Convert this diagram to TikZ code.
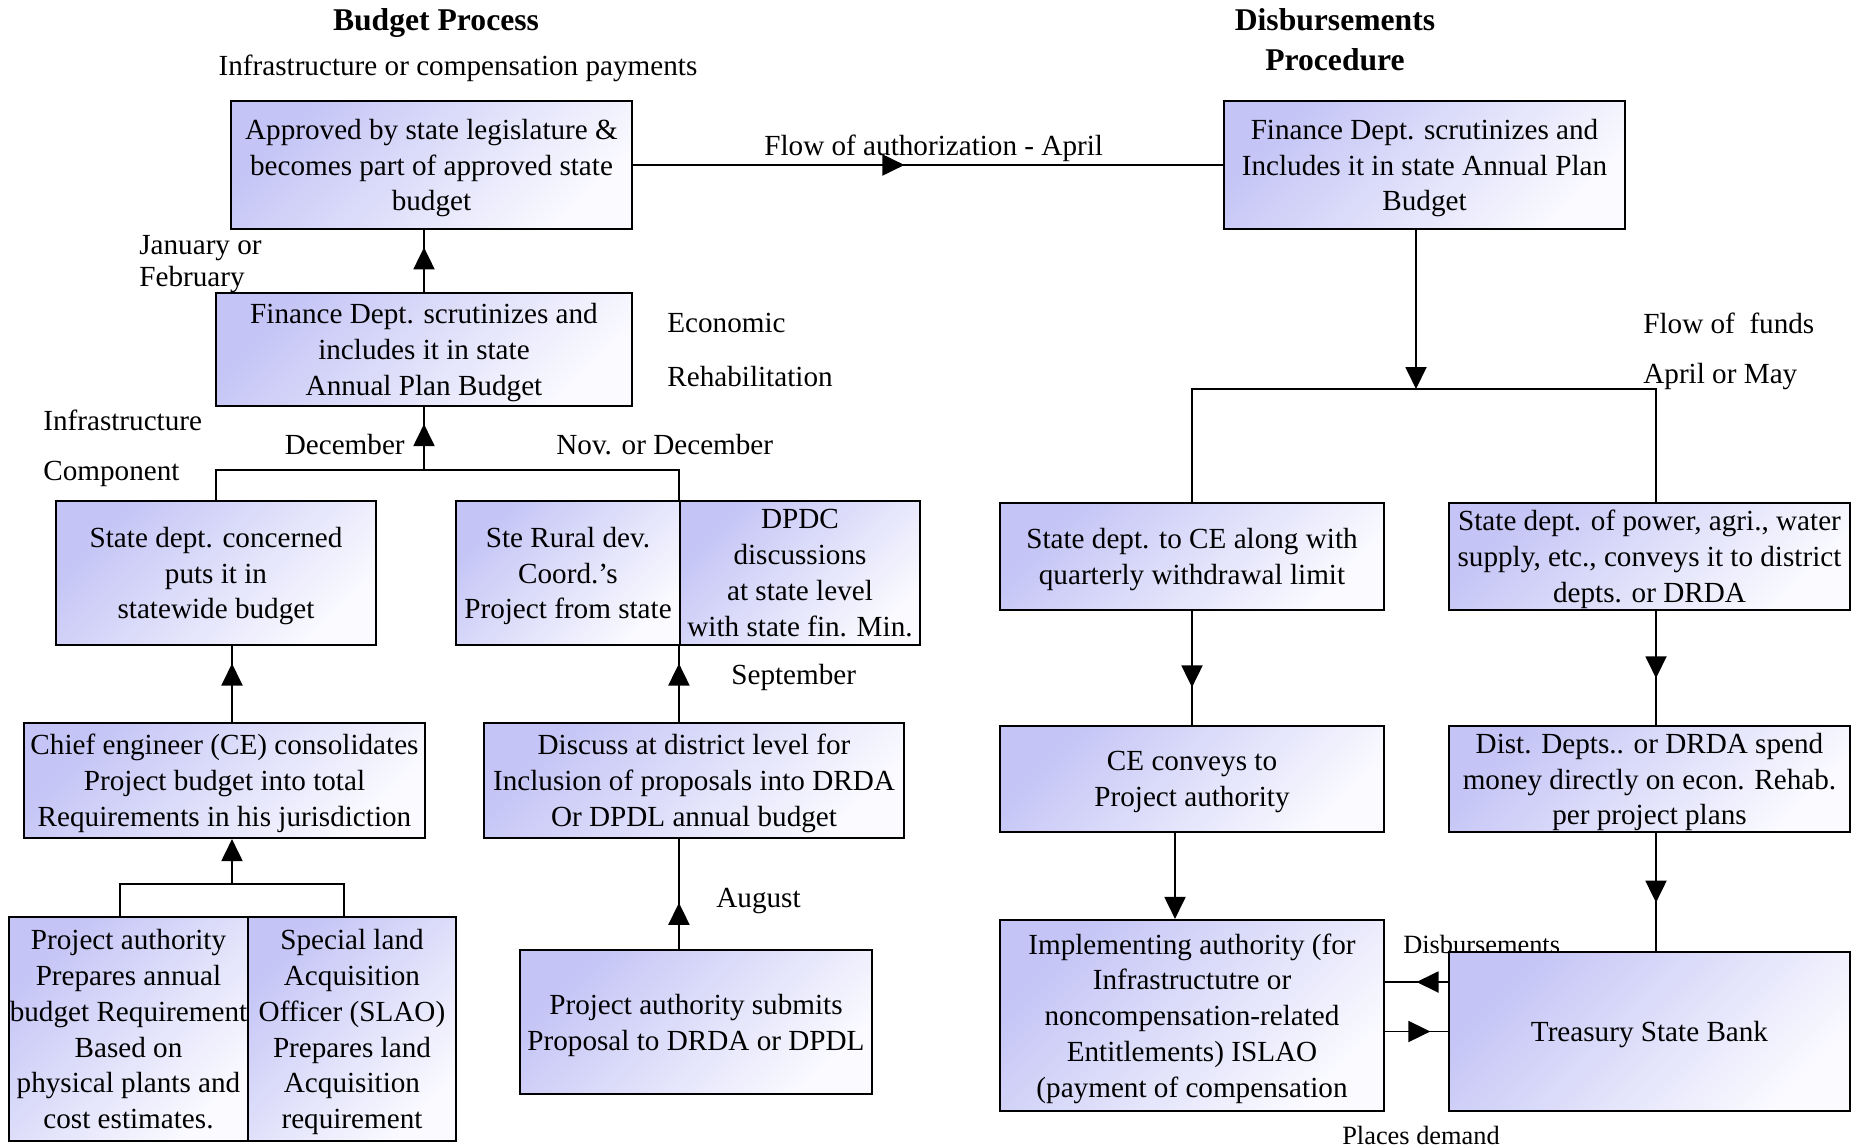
\documentclass[tikz,border=0pt]{standalone}
\usepackage{fontspec}
\setmainfont{Liberation Serif}
\usetikzlibrary{arrows.meta, calc, decorations.markings}
\definecolor{boxlav}{RGB}{196, 196, 246}
\definecolor{boxpale}{RGB}{250, 250, 255}

\begin{document}
\begin{tikzpicture}[
  every node/.style={font=\fontsize{16.6}{20.4}\selectfont, align=center, inner sep=0pt},
  stage/.style={draw=black, line width=1.2pt, top color=boxlav, bottom color=boxpale, shading angle=45, text depth=-1.8pt},
  note/.style={anchor=west},
  small/.style={font=\fontsize{15}{18}\selectfont},
  headline/.style={font=\fontsize{18}{22.8}\selectfont\bfseries},
  link/.style={line width=1.1pt},
  arr/.style={link, -{Triangle[length=0.44cm, width=0.42cm]}},
  midarr/.style={link, postaction={decorate}, decoration={markings, mark=at position #1 with {\arrow{Triangle[length=0.44cm, width=0.42cm]}}}}
]
  \useasboundingbox (0,0) rectangle (37.14,-22.92);

  % titles and free labels
  \node[headline] (budgettitle) at (8.72,-0.47) {Budget Process};
  \node[headline] (disbtitle) at (26.70,-0.80) {Disbursements\\Procedure};
  \node (infracomp) at (9.16,-1.36) {Infrastructure or compensation payments};
  \node[note] (authlbl) at (15.28,-2.96) {Flow of authorization - April};
  \node[note, align=left, font=\fontsize{16.6}{18.6}\selectfont] (janlbl) at (2.78,-5.28) {January or\\February};
  \node[note] (econlbl) at (13.34,-6.46) {Economic};
  \node[note] (rehablbl) at (13.34,-7.54) {Rehabilitation};
  \node[note] (infralbl) at (0.86,-8.40) {Infrastructure};
  \node[note] (complbl) at (0.86,-9.48) {Component};
  \node[anchor=east] (declbl) at (8.10,-8.90) {December};
  \node[note] (novlbl) at (11.12,-8.90) {Nov. or December};
  \node[note] (seplbl) at (14.62,-13.54) {September};
  \node[note] (auglbl) at (14.32,-18.02) {August};
  \node[note] (fundslbl) at (32.86,-6.46) {Flow of\ \ funds};
  \node[note] (aprlbl) at (32.86,-7.54) {April or May};
  \node[note, small] (disblbl) at (28.06,-18.88) {Disbursements};
  \node[small] (demandlbl) at (28.42,-22.70) {Places demand};

  % budget process
  \node[stage, minimum width=8.02cm, minimum height=2.56cm] (approved) at (8.63,-3.30) {Approved by state legislature \&\\becomes part of approved state\\budget};
  \node[stage, minimum width=8.32cm, minimum height=2.26cm] (finleg) at (8.48,-6.99) {Finance Dept. scrutinizes and\\includes it in state\\Annual Plan Budget};
  \node[stage, minimum width=6.40cm, minimum height=2.88cm] (statedept) at (4.32,-11.46) {State dept. concerned\\puts it in\\statewide budget};
  \node[stage, minimum width=4.48cm, minimum height=2.88cm] (rural) at (11.36,-11.46) {Ste Rural dev.\\Coord.’s\\Project from state};
  \node[stage, minimum width=4.80cm, minimum height=2.88cm] (dpdc) at (16.00,-11.46) {DPDC\\discussions\\at state level\\with state fin. Min.};
  \node[stage, minimum width=8.02cm, minimum height=2.30cm] (chiefeng) at (4.49,-15.61) {Chief engineer (CE) consolidates\\Project budget into total\\Requirements in his jurisdiction};
  \node[stage, minimum width=8.40cm, minimum height=2.30cm] (district) at (13.88,-15.61) {Discuss at district level for\\Inclusion of proposals into DRDA\\Or DPDL annual budget};
  \node[stage, minimum width=4.78cm, minimum height=4.48cm] (projauth) at (2.57,-20.58) {Project authority\\Prepares annual\\budget Requirement\\Based on\\physical plants and\\cost estimates.};
  \node[stage, minimum width=4.16cm, minimum height=4.48cm] (slao) at (7.04,-20.58) {Special land\\Acquisition\\Officer (SLAO)\\Prepares land\\Acquisition\\requirement};
  \node[stage, minimum width=7.04cm, minimum height=2.88cm] (submit) at (13.92,-20.44) {Project authority submits\\Proposal to DRDA or DPDL};

  % disbursements procedure
  \node[stage, minimum width=8.02cm, minimum height=2.56cm] (findisb) at (28.49,-3.30) {Finance Dept. scrutinizes and\\Includes it in state Annual Plan\\Budget};
  \node[stage, minimum width=7.68cm, minimum height=2.14cm] (toce) at (23.84,-11.13) {State dept. to CE along with\\quarterly withdrawal limit};
  \node[stage, minimum width=8.02cm, minimum height=2.14cm] (power) at (32.99,-11.13) {State dept. of power, agri., water\\supply, etc., conveys it to district\\depts. or DRDA};
  \node[stage, minimum width=7.68cm, minimum height=2.12cm] (ceconv) at (23.84,-15.58) {CE conveys to\\Project authority};
  \node[stage, minimum width=8.02cm, minimum height=2.12cm] (spend) at (32.99,-15.58) {Dist. Depts.. or DRDA spend\\money directly on econ. Rehab.\\per project plans};
  \node[stage, minimum width=7.68cm, minimum height=3.82cm] (impl) at (23.84,-20.31) {Implementing authority (for\\Infrastructutre or\\noncompensation-related\\Entitlements) ISLAO\\(payment of compensation};
  \node[stage, minimum width=8.02cm, minimum height=3.18cm] (treasury) at (32.99,-20.63) {Treasury State Bank};

  % budget connectors
  \draw[midarr=0.46] (approved.east) -- (findisb.west);
  \draw[midarr=0.72] (finleg.north) -- (finleg.north |- approved.south);
  \coordinate (budgetjoin) at (8.48,-9.40);
  \draw[link] (statedept.north) |- (budgetjoin) -| (dpdc.north west);
  \draw[midarr=0.73] (budgetjoin) -- (finleg.south);
  \coordinate (cejoin) at (4.64,-17.68);
  \draw[midarr=0.77] (chiefeng.north -| cejoin) -- (statedept.south -| cejoin);
  \draw[link] ([xshift=-0.17cm]projauth.north) |- (cejoin) -| ([xshift=-0.16cm]slao.north);
  \draw[arr] (cejoin) -- (chiefeng.south -| cejoin);
  \draw[midarr=0.77] (district.north -| dpdc.south west) -- (dpdc.south west);
  \draw[midarr=0.42] (submit.north -| dpdc.south west) -- (district.south -| dpdc.south west);

  % disbursement connectors
  \coordinate (fundsjoin) at (28.32,-7.78);
  \draw[arr] (findisb.south -| fundsjoin) -- (fundsjoin);
  \draw[link] (toce.north) |- (fundsjoin) -| ([xshift=0.13cm]power.north);
  \draw[midarr=0.67] (toce.south) -- (ceconv.north);
  \draw[midarr=0.59] ([xshift=0.13cm]power.south) -- ([xshift=0.13cm]spend.north);
  \draw[arr] ([xshift=-0.34cm]ceconv.south) -- ([xshift=-0.34cm]impl.north);
  \draw[midarr=0.59] ([xshift=0.13cm]spend.south) -- ([xshift=0.13cm]treasury.north);
  \draw[midarr=0.5] ([yshift=0.99cm]treasury.west) -- ([yshift=0.99cm]treasury.west -| impl.east);
  \draw[midarr=0.72] (treasury.west -| impl.east) -- (treasury.west);
\end{tikzpicture}
\end{document}
